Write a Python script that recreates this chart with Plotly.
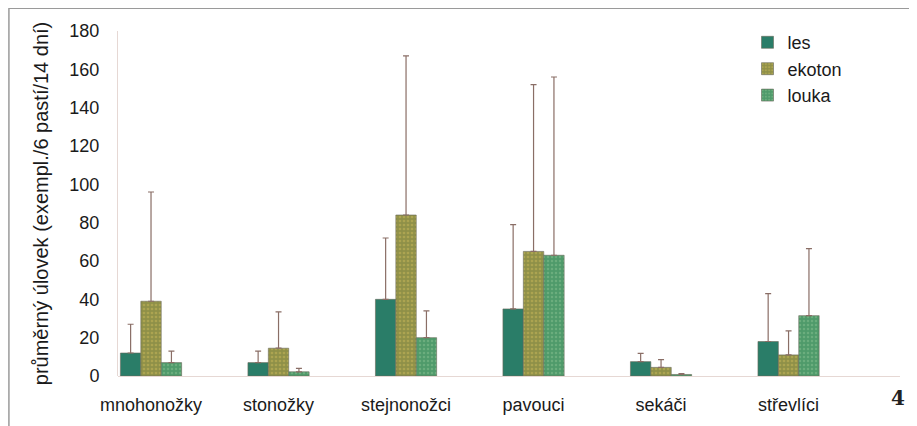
import plotly.graph_objects as go

categories = ["mnohonožky", "stonožky", "stejnonožci", "pavouci", "sekáči", "střevlíci"]
series_names = ["les", "ekoton", "louka"]
les = [12, 7, 40, 35, 7.5, 18]
ekoton = [39, 14.5, 84, 65, 4.5, 11]
louka = [7, 2.2, 20, 63, 0.8, 31.5]
les_err = [15, 6, 32, 44, 4.3, 25]
ekoton_err = [57, 19, 83, 87, 4, 12.5]
louka_err = [6, 1.8, 14, 93, 0.4, 35]
y_ticks = [0, 20, 40, 60, 80, 100, 120, 140, 160, 180]

styles = {
    "les": dict(color="#2a7d68", pattern=dict(shape="")),
    "ekoton": dict(color="#8f9048", pattern=dict(shape=".", fgcolor="#c9b85a", size=4, solidity=0.35)),
    "louka": dict(color="#4f9a6a", pattern=dict(shape=".", fgcolor="#86c090", size=4, solidity=0.3)),
}

fig = go.Figure()
for name, vals, errs in zip(series_names, [les, ekoton, louka], [les_err, ekoton_err, louka_err]):
    st = styles[name]
    fig.add_trace(go.Bar(
        name=name, x=categories, y=vals,
        marker=dict(color=st["color"], pattern=st["pattern"], line=dict(width=0.6, color="#6a6a5a")),
        error_y=dict(type="data", array=errs, arrayminus=[0] * len(errs), symmetric=False,
                     color="#8a6e66", thickness=1.2, width=3),
    ))

fig.update_layout(
    width=909, height=418,
    margin=dict(l=110, r=17, t=23, b=50),
    paper_bgcolor="white", plot_bgcolor="white",
    barmode="group", bargap=0.52, bargroupgap=0,
    font=dict(family="Liberation Sans, Arial, sans-serif", size=18, color="#1a1a1a"),
    showlegend=True,
    legend=dict(x=0.805, y=1.02, xanchor="left", yanchor="top", bgcolor="rgba(0,0,0,0)",
                font=dict(size=18), tracegroupgap=0),
    xaxis=dict(range=[-0.259, 5.874], showgrid=False, ticks="", showline=False,
               tickfont=dict(size=18), zeroline=False, ticklabelstandoff=16),
    yaxis=dict(range=[0, 180], tickvals=y_ticks, showgrid=False, showline=True,
               linecolor="#e6d8d4", linewidth=1, ticks="", tickfont=dict(size=18),
               ticklabelstandoff=14, zeroline=True, zerolinecolor="#e6d8d4", zerolinewidth=1,
               title=dict(text="průměrný úlovek (exempl./6 pastí/14 dní)", font=dict(size=20), standoff=15)),
    shapes=[
        dict(type="line", xref="paper", yref="paper", x0=-0.14, x1=1.05, y0=1.066, y1=1.066,
             line=dict(color="#9a9a9a", width=1.5)),
        dict(type="line", xref="paper", yref="paper", x0=-0.1395, x1=-0.1395, y0=1.066, y1=-0.2,
             line=dict(color="#9a9a9a", width=1.5)),
    ],
    annotations=[
        dict(text="<b>4</b>", xref="paper", yref="paper", x=0.997, y=-0.064, xanchor="center",
             yanchor="middle", showarrow=False, font=dict(family="DejaVu Serif, serif", size=20, color="#222")),
    ],
)

fig.write_html("out.html")
